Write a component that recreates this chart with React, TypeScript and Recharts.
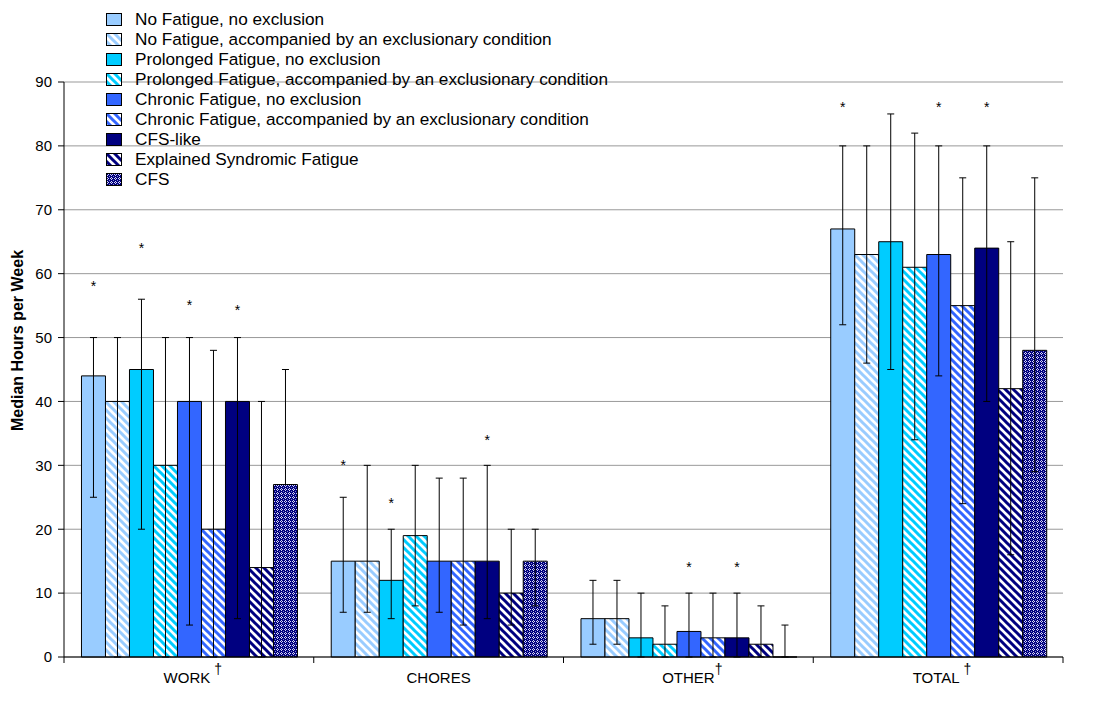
import React from "react";
import { Bar, BarChart, CartesianGrid, ErrorBar, Label, LabelList, Legend, XAxis, YAxis } from "recharts";

const FONT = "'Liberation Sans', Arial, sans-serif";

const categories = ["WORK", "CHORES", "OTHER", "TOTAL"];
const daggers = [" \u2020", "", "\u2020", " \u2020"];

const seriesNames = [
  "No Fatigue, no exclusion",
  "No Fatigue, accompanied by an exclusionary condition",
  "Prolonged Fatigue, no exclusion",
  "Prolonged Fatigue, accompanied by an exclusionary condition",
  "Chronic Fatigue, no exclusion",
  "Chronic Fatigue, accompanied by an exclusionary condition",
  "CFS-like",
  "Explained Syndromic Fatigue",
  "CFS",
];

// medians per category (WORK, CHORES, OTHER, TOTAL)
const noFatigue = [44, 15, 6, 67];
const noFatigueExcl = [40, 15, 6, 63];
const prolonged = [45, 12, 3, 65];
const prolongedExcl = [30, 19, 2, 61];
const chronic = [40, 15, 4, 63];
const chronicExcl = [20, 15, 3, 55];
const cfsLike = [40, 15, 3, 64];
const explained = [14, 10, 2, 42];
const cfs = [27, 15, 0, 48];

// error bar bounds (low / high)
const noFatigueLow = [25, 7, 2, 52];
const noFatigueHigh = [50, 25, 12, 80];
const noFatigueExclLow = [0, 7, 2, 46];
const noFatigueExclHigh = [50, 30, 12, 80];
const prolongedLow = [20, 6, 0, 45];
const prolongedHigh = [56, 20, 10, 85];
const prolongedExclLow = [0, 8, 0, 34];
const prolongedExclHigh = [50, 30, 8, 82];
const chronicLow = [5, 7, 0, 44];
const chronicHigh = [50, 28, 10, 80];
const chronicExclLow = [0, 5, 0, 24];
const chronicExclHigh = [48, 28, 10, 75];
const cfsLikeLow = [6, 6, 0, 40];
const cfsLikeHigh = [50, 30, 10, 80];
const explainedLow = [0, 5, 0, 16];
const explainedHigh = [40, 20, 8, 65];
const cfsLow = [27, 8, 0, 29];
const cfsHigh = [45, 20, 5, 75];

// significance asterisks (value where the * sits)
const noFatigueStar = [58.5, 30.5, null, 86.5];
const prolongedStar = [64.5, 24.5, null, null];
const chronicStar = [55.5, null, 14.5, 86.5];
const cfsLikeStar = [54.8, 34.5, 14.5, 86.5];
const noStar = [null, null, null, null];

const yTicks = [0, 10, 20, 30, 40, 50, 60, 70, 80, 90];

const values = [noFatigue, noFatigueExcl, prolonged, prolongedExcl, chronic, chronicExcl, cfsLike, explained, cfs];
const lows = [noFatigueLow, noFatigueExclLow, prolongedLow, prolongedExclLow, chronicLow, chronicExclLow, cfsLikeLow, explainedLow, cfsLow];
const highs = [noFatigueHigh, noFatigueExclHigh, prolongedHigh, prolongedExclHigh, chronicHigh, chronicExclHigh, cfsLikeHigh, explainedHigh, cfsHigh];
const stars = [noFatigueStar, noStar, prolongedStar, noStar, chronicStar, noStar, cfsLikeStar, noStar, noStar];
const fills = [
  "#99CCFF",
  "url(#stripe-light)",
  "#00CCFF",
  "url(#stripe-cyan)",
  "#3366FF",
  "url(#stripe-blue)",
  "#000080",
  "url(#stripe-navy)",
  "url(#cfs-grid)",
];

const data = categories.map((name, c) => {
  const row: Record<string, any> = { name, dagger: daggers[c] };
  values.forEach((vals, i) => {
    row[`s${i}`] = vals[c];
    row[`e${i}`] = [vals[c] - lows[i][c], highs[i][c] - vals[c]];
    row[`st${i}`] = stars[i][c];
  });
  return row;
});

function Stripe({ id, color }: { id: string; color: string }) {
  return (
    <pattern id={id} patternUnits="userSpaceOnUse" width={8} height={8}>
      <rect width={8} height={8} fill="#fff" />
      <path d="M-4,4 L4,12 M0,0 L8,8 M4,-4 L12,4" stroke={color} strokeWidth={3} />
    </pattern>
  );
}

const starLabel = (vals: number[]) => (props: any) => {
  const { index, value } = props;
  if (value == null) return null;
  const vb = props.viewBox ?? props;
  const h = Math.abs(vb.height);
  const v = vals[index];
  if (!v || !h) return null;
  const base = Math.max(vb.y, vb.y + vb.height);
  const cy = base - (value * h) / v;
  return (
    <text key={`star-${index}`} x={vb.x + vb.width / 2} y={cy + 8} textAnchor="middle" fontSize={14} fontFamily={FONT} fill="#000">
      *
    </text>
  );
};

function XTick(props: any) {
  const { x, y, payload, index } = props;
  const half = payload.offset ?? 0;
  const row = data[index];
  const dag = row ? row.dagger : "";
  return (
    <g>
      <line x1={x - half} x2={x - half} y1={y} y2={y + 6} stroke="#000" />
      {index === categories.length - 1 && <line x1={x + half} x2={x + half} y1={y} y2={y + 6} stroke="#000" />}
      <text x={x} y={y + 26} textAnchor="middle" fontSize={15} fontFamily={FONT} fill="#000">
        {dag ? <tspan fill="transparent" dy={-9} fontSize={14}>{dag}</tspan> : null}
        <tspan dy={dag ? 9 : 0}>{payload.value}</tspan>
        {dag ? <tspan dy={-9} fontSize={14}>{dag}</tspan> : null}
      </text>
    </g>
  );
}

function YTitle(props: any) {
  const vb = props.viewBox;
  const cx = vb.x + 9;
  const cy = vb.y + vb.height / 2 - 29;
  return (
    <text
      x={cx}
      y={cy}
      transform={`rotate(-90 ${cx} ${cy})`}
      textAnchor="middle"
      dominantBaseline="central"
      fontWeight="bold"
      fontSize={16}
      fontFamily={FONT}
      fill="#000"
    >
      Median Hours per Week
    </text>
  );
}

function LegendBox() {
  return (
    <div style={{ fontFamily: FONT, fontSize: 17.2, color: "#000" }}>
      {seriesNames.map((name, i) => (
        <div key={i} style={{ display: "flex", alignItems: "center", height: 20, whiteSpace: "nowrap" }}>
          <svg width={16} height={13} style={{ marginRight: 13 }}>
            <rect x={0.5} y={0.5} width={15} height={12} fill={fills[i]} stroke="#000" />
          </svg>
          <span>{name}</span>
        </div>
      ))}
    </div>
  );
}

export default function App() {
  return (
    <div style={{ width: 1077, height: 690, fontFamily: FONT }}>
      <BarChart
        width={1077}
        height={690}
        data={data}
        margin={{ top: 74, right: 22, bottom: 11, left: 0 }}
        barCategoryGap="7%"
        barGap={0}
      >
        <defs>
          <Stripe id="stripe-light" color="#99CCFF" />
          <Stripe id="stripe-cyan" color="#00CCFF" />
          <Stripe id="stripe-blue" color="#3366FF" />
          <Stripe id="stripe-navy" color="#000080" />
          <pattern id="cfs-grid" patternUnits="userSpaceOnUse" width={4} height={4}>
            <rect width={4} height={4} fill="#000080" />
            <rect x={1} y={0} width={1} height={1} fill="#d8d8f4" />
            <rect x={0} y={1} width={1} height={1} fill="#d8d8f4" />
            <rect x={2} y={1} width={1} height={1} fill="#d8d8f4" />
            <rect x={1} y={2} width={1} height={1} fill="#d8d8f4" />
            <rect x={3} y={3} width={1} height={1} fill="#8888c8" />
          </pattern>
        </defs>
        <CartesianGrid vertical={false} stroke="#999" />
        <XAxis
          dataKey="name"
          height={30}
          tick={<XTick />}
          tickLine={false}
          tickSize={0}
          tickMargin={0}
          axisLine={{ stroke: "#000" }}
          interval={0}
        />
        <YAxis
          domain={[0, 90]}
          ticks={yTicks}
          interval={0}
          width={56}
          tickSize={6}
          tickMargin={6}
          tick={{ fontSize: 15, fill: "#000", fontFamily: FONT }}
          tickLine={{ stroke: "#000" }}
          axisLine={{ stroke: "#000" }}
          label={<Label content={<YTitle />} />}
        />
        <Legend
          layout="vertical"
          align="center"
          verticalAlign="middle"
          wrapperStyle={{ top: 1, left: 98, width: "auto", height: "auto" }}
          content={<LegendBox />}
        />
        {values.map((vals, i) => (
          <Bar
            key={i}
            dataKey={`s${i}`}
            name={seriesNames[i]}
            fill={fills[i]}
            stroke="#000"
            strokeWidth={1}
            minPointSize={0.01}
            isAnimationActive={false}
          >
            <ErrorBar dataKey={`e${i}`} width={3.5} stroke="#000" strokeWidth={1} direction="y" />
            <LabelList dataKey={`st${i}`} content={starLabel(vals)} />
          </Bar>
        ))}
      </BarChart>
    </div>
  );
}
